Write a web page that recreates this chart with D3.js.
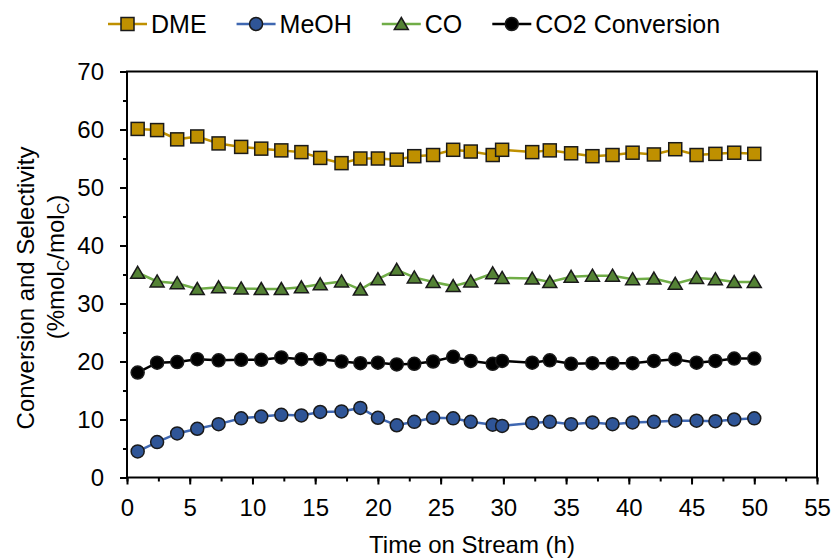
<!DOCTYPE html>
<html>
<head>
<meta charset="utf-8">
<script src="https://cdn.jsdelivr.net/npm/d3@7"></script>
<style>
  body { margin: 0; background: #fff; }
  text { font-family: "Liberation Sans", Arial, sans-serif; fill: #000; }
</style>
</head>
<body>
<svg id="chart" width="833" height="558"></svg>
<script>
// time on stream (h)
const time = [0.85, 2.4, 4.0, 5.6, 7.3, 9.1, 10.7, 12.3, 13.9, 15.4, 17.1, 18.6, 20.0, 21.5, 22.9, 24.4,
  26.0, 27.4, 29.15, 29.9, 32.3, 33.7, 35.4, 37.1, 38.7, 40.3, 42.0, 43.7, 45.4, 46.9, 48.4, 50.0];

const dme = [60.1, 59.9, 58.3, 58.8, 57.6, 57.0, 56.7, 56.4, 56.1, 55.1, 54.2, 55.0, 55.0, 54.8, 55.4, 55.6,
  56.5, 56.2, 55.6, 56.5, 56.1, 56.4, 55.9, 55.4, 55.6, 56.0, 55.7, 56.6, 55.6, 55.8, 56.0, 55.8];
const meoh = [4.5, 6.1, 7.6, 8.4, 9.2, 10.2, 10.5, 10.8, 10.7, 11.3, 11.4, 12.0, 10.3, 9.0, 9.6, 10.3,
  10.2, 9.6, 9.1, 8.9, 9.4, 9.6, 9.2, 9.5, 9.2, 9.5, 9.6, 9.8, 9.8, 9.7, 10.0, 10.2];
const co = [35.3, 33.8, 33.5, 32.5, 32.8, 32.6, 32.5, 32.5, 32.8, 33.3, 33.8, 32.4, 34.2, 35.8, 34.5, 33.7,
  33.0, 33.8, 35.2, 34.4, 34.3, 33.7, 34.6, 34.8, 34.8, 34.2, 34.3, 33.4, 34.4, 34.2, 33.7, 33.7];
const co2 = [18.1, 19.8, 19.9, 20.4, 20.2, 20.3, 20.3, 20.7, 20.4, 20.4, 20.0, 19.7, 19.8, 19.5, 19.6, 20.0,
  20.8, 20.1, 19.6, 20.1, 19.8, 20.2, 19.6, 19.7, 19.7, 19.7, 20.1, 20.4, 19.8, 20.1, 20.5, 20.5];

const seriesNames = ["DME", "MeOH", "CO", "CO2 Conversion"];
const xTicks = [0, 5, 10, 15, 20, 25, 30, 35, 40, 45, 50, 55];
const yTicks = [0, 10, 20, 30, 40, 50, 60, 70];

const series = [
  { name: seriesNames[0], values: dme, line: "#BF9000", fill: "#BF9000", shape: "square" },
  { name: seriesNames[1], values: meoh, line: "#3F67B1", fill: "#2F5597", shape: "circle" },
  { name: seriesNames[2], values: co, line: "#70AD47", fill: "#548235", shape: "triangle" },
  { name: seriesNames[3], values: co2, line: "#000000", fill: "#000000", shape: "circle" },
];

const svg = d3.select("#chart");
const plotLeft = 127, plotRight = 817, plotTop = 71.5, plotBottom = 477.5;

const x = d3.scaleLinear().domain([0, 55]).range([plotLeft, plotRight]);
const y = d3.scaleLinear().domain([0, 70]).range([plotBottom, plotTop]);

// frame
svg.append("rect")
  .attr("x", plotLeft).attr("y", plotTop)
  .attr("width", plotRight - plotLeft).attr("height", plotBottom - plotTop)
  .attr("fill", "none").attr("stroke", "#000").attr("stroke-width", 2);

// x axis
const xMinor = svg.append("g").attr("transform", `translate(0,${plotBottom})`)
  .call(d3.axisBottom(x).tickValues(d3.range(0, 55.1, 2.5)).tickSize(4).tickFormat(""))
  .call((g) => g.select(".domain").remove());
xMinor.selectAll(".tick line").attr("stroke-width", 2);
const xMajor = svg.append("g").attr("transform", `translate(0,${plotBottom})`)
  .call(d3.axisBottom(x).tickValues(xTicks).tickSize(7).tickPadding(14))
  .call((g) => g.select(".domain").remove());
xMajor.selectAll(".tick line").attr("stroke-width", 2);
xMajor.selectAll(".tick text").attr("font-size", 24).attr("font-family", "Liberation Sans, Arial, sans-serif");

// y axis
const yMinor = svg.append("g").attr("transform", `translate(${plotLeft},0)`)
  .call(d3.axisLeft(y).tickValues(d3.range(0, 70.1, 5)).tickSize(4).tickFormat(""))
  .call((g) => g.select(".domain").remove());
yMinor.selectAll(".tick line").attr("stroke-width", 2);
const yMajor = svg.append("g").attr("transform", `translate(${plotLeft},0)`)
  .call(d3.axisLeft(y).tickValues(yTicks).tickSize(7).tickPadding(16))
  .call((g) => g.select(".domain").remove());
yMajor.selectAll(".tick line").attr("stroke-width", 2);
yMajor.selectAll(".tick text").attr("font-size", 24).attr("font-family", "Liberation Sans, Arial, sans-serif");

// axis titles
svg.append("text")
  .attr("x", (plotLeft + plotRight) / 2).attr("y", 553)
  .attr("text-anchor", "middle").attr("font-size", 24)
  .text("Time on Stream (h)");

svg.append("text")
  .attr("transform", "translate(34,288) rotate(-90)")
  .attr("text-anchor", "middle").attr("font-size", 24)
  .text("Conversion and Selectivity");

const yt2 = svg.append("text")
  .attr("transform", "translate(64,267) rotate(-90)")
  .attr("text-anchor", "middle").attr("font-size", 24);
yt2.append("tspan").text("(%mol");
yt2.append("tspan").attr("font-size", 16).attr("dy", 5).text("C");
yt2.append("tspan").attr("dy", -5).text("/mol");
yt2.append("tspan").attr("font-size", 16).attr("dy", 5).text("C");
yt2.append("tspan").attr("dy", -5).text(")");

function drawMarker(sel, s) {
  if (s.shape === "square") {
    sel.append("rect").attr("x", -6.5).attr("y", -6.5).attr("width", 13).attr("height", 13);
  } else if (s.shape === "circle") {
    sel.append("circle").attr("r", 6.5);
  } else {
    sel.append("path").attr("d", "M0,-6.5L7,5.5L-7,5.5Z");
  }
  sel.selectAll("*")
    .attr("fill", s.fill)
    .attr("stroke", "#1a1a1a")
    .attr("stroke-width", 1.5);
}

const line = d3.line().x((d) => x(d[0])).y((d) => y(d[1]));

series.forEach((s) => {
  const pts = time.map((t, i) => [t, s.values[i]]);
  const g = svg.append("g");
  g.append("path")
    .attr("d", line(pts))
    .attr("fill", "none")
    .attr("stroke", s.line)
    .attr("stroke-width", 2.5);
  g.selectAll("g.m").data(pts).enter().append("g")
    .attr("class", "m")
    .attr("transform", (d) => `translate(${x(d[0])},${y(d[1])})`)
    .each(function () { drawMarker(d3.select(this), s); });
});

// legend
let lx = 108;
series.forEach((s) => {
  const g = svg.append("g").attr("transform", `translate(${lx},24)`);
  g.append("line").attr("x1", 0).attr("x2", 39).attr("y1", 0).attr("y2", 0)
    .attr("stroke", s.line).attr("stroke-width", 2.5);
  const m = g.append("g").attr("transform", "translate(19.5,0)");
  drawMarker(m, s);
  const t = g.append("text").attr("x", 43).attr("y", 9).attr("font-size", 25).text(s.name);
  lx += 43 + t.node().getComputedTextLength() + 30;
});
</script>
</body>
</html>
